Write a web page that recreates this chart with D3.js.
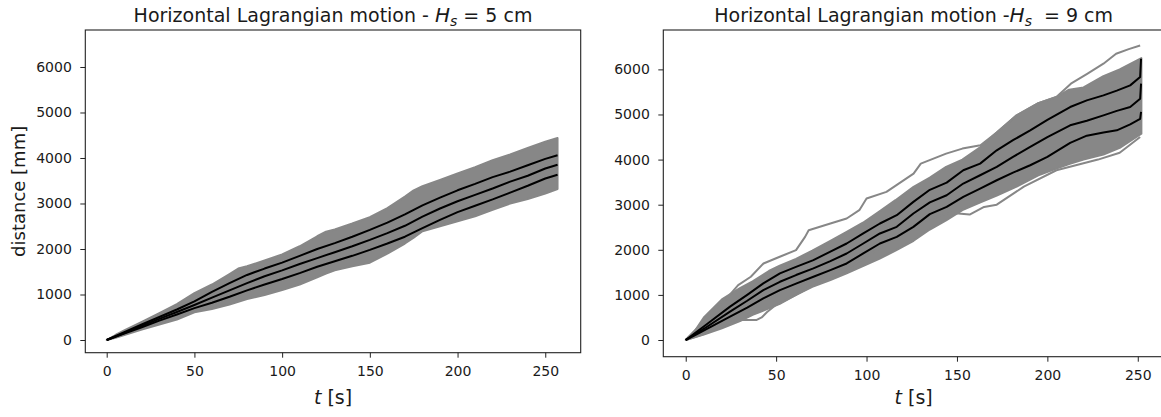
<!DOCTYPE html>
<html>
<head>
<meta charset="utf-8">
<script src="https://cdn.jsdelivr.net/npm/d3@7"></script>
<style>
	body { margin: 0; background: #fff; }
	svg text { font-family: "DejaVu Sans", sans-serif; fill: #1a1a1a; white-space: pre; }
</style>
</head>
<body>
<svg id="chart" width="1161" height="417"></svg>
<script>
// ---- data ----
const X_TICKS = [0, 50, 100, 150, 200, 250]
const Y_TICKS = [0, 1000, 2000, 3000, 4000, 5000, 6000]

const TITLE_HEAD = ['Horizontal Lagrangian motion - ', 'Horizontal Lagrangian motion -']
const TITLE_TAIL = [' = 5 cm', '  = 9 cm']

// left, Hs = 5 cm
const L_T = [0, 10, 20, 30, 40, 50, 60, 70, 80, 90, 100, 110, 120, 130, 140, 150, 160, 170, 180, 190, 200, 210, 220, 230, 240, 250, 257]
const L_UPPER = [0, 170, 340, 505, 670, 850, 1060, 1250, 1430, 1570, 1700, 1850, 2000, 2130, 2270, 2420, 2580, 2760, 2960, 3130, 3290, 3430, 3580, 3700, 3840, 3980, 4060]
const L_MEAN = [0, 155, 310, 465, 615, 770, 930, 1090, 1250, 1400, 1530, 1670, 1800, 1930, 2060, 2200, 2350, 2510, 2710, 2890, 3050, 3190, 3330, 3480, 3610, 3770, 3850]
const L_LOWER = [0, 140, 280, 425, 560, 700, 820, 950, 1090, 1220, 1340, 1470, 1610, 1730, 1850, 1980, 2120, 2270, 2460, 2640, 2810, 2950, 3090, 3240, 3390, 3550, 3630]

const L_ENV_T = [0, 5, 10, 20, 30, 40, 50, 60, 70, 75, 80, 90, 100, 110, 120, 125, 130, 140, 150, 160, 170, 175, 180, 190, 200, 210, 220, 230, 240, 250, 257]
const L_ENV_TOP = [0, 110, 210, 400, 590, 790, 1030, 1220, 1450, 1570, 1620, 1750, 1880, 2060, 2280, 2380, 2430, 2560, 2700, 2900, 3150, 3290, 3380, 3520, 3660, 3800, 3950, 4080, 4220, 4360, 4440]
const L_ENV_BOT = [0, 50, 110, 230, 340, 450, 610, 680, 780, 840, 900, 990, 1100, 1220, 1380, 1460, 1530, 1620, 1700, 1900, 2120, 2250, 2390, 2500, 2610, 2720, 2860, 3000, 3100, 3220, 3320]

// right, Hs = 9 cm
const R_T = [0, 12, 24.5, 34, 42.9, 52.1, 61, 70.6, 80, 89, 98.2, 107.4, 116.7, 125.9, 135, 144.3, 153.5, 162.8, 172, 181, 190.5, 200, 212.6, 221.8, 231, 238.4, 245.8, 251.3, 251.8]
const R_UPPER = [0, 360, 740, 1000, 1255, 1476, 1620, 1771, 1960, 2140, 2362, 2583, 2767, 3062, 3330, 3490, 3764, 3911, 4206, 4430, 4649, 4880, 5165, 5313, 5424, 5530, 5645, 5829, 6236]
const R_MEAN = [0, 300, 630, 870, 1107, 1291, 1440, 1587, 1750, 1918, 2140, 2362, 2509, 2805, 3050, 3210, 3469, 3653, 3837, 4060, 4280, 4500, 4760, 4860, 4980, 5080, 5165, 5350, 5683]
const R_LOWER = [0, 250, 520, 720, 923, 1107, 1250, 1402, 1550, 1697, 1920, 2140, 2287, 2509, 2790, 2951, 3173, 3358, 3542, 3710, 3874, 4060, 4370, 4530, 4600, 4649, 4780, 4900, 5060]

const R_ENV_T = [0, 5, 10, 20, 30, 37, 46, 52, 61, 70, 80, 89, 98, 107, 116, 126, 135, 144, 153, 163, 172, 183, 195, 205, 212, 220, 231, 240, 252]
const R_ENV_TOP = [0, 200, 500, 900, 1150, 1300, 1530, 1650, 1800, 1980, 2200, 2400, 2600, 2850, 3100, 3394, 3600, 3837, 4000, 4280, 4600, 4981, 5250, 5387, 5550, 5600, 5850, 6000, 6250]
const R_ENV_BOT = [0, 60, 120, 260, 420, 560, 700, 800, 1000, 1180, 1330, 1480, 1640, 1800, 1980, 2200, 2450, 2650, 2880, 3050, 3200, 3400, 3650, 3800, 3900, 4000, 4110, 4260, 4575]

// single gray runs that stick out of the band
const R_RUN1_T = [0, 10, 15, 20, 29, 36, 43, 52, 61, 66, 68, 80, 89, 96, 100, 111, 126, 130, 144, 153, 163, 172, 183, 195, 205, 213, 222, 231, 238, 245, 251.3]
const R_RUN1 = [0, 420, 650, 800, 1218, 1402, 1697, 1845, 1992, 2287, 2435, 2583, 2694, 2878, 3137, 3284, 3690, 3911, 4133, 4244, 4317, 4600, 4981, 5250, 5387, 5683, 5900, 6126, 6347, 6450, 6531]
const R_RUN2_T = [0, 10, 20, 28, 39, 42, 45, 50, 61, 70, 80, 98, 116, 126, 135, 146, 157, 165, 172, 187, 205, 228, 240, 251.3]
const R_RUN2 = [0, 130, 300, 443, 443, 500, 620, 780, 1000, 1200, 1350, 1800, 2250, 2550, 2680, 2820, 2780, 2950, 3000, 3400, 3764, 4000, 4150, 4500]

const GRAY = '#878787'

const panels = [
	{
		box: { left: 85.3, right: 580.7, top: 30, bottom: 352.7 },
		xDomain: [-12.2, 270.2], yDomain: [-279, 6813],
		band: [L_ENV_T, L_ENV_TOP, L_ENV_BOT],
		runs: [],
		stats: [[L_T, L_UPPER], [L_T, L_MEAN], [L_T, L_LOWER]],
		ylabel: true,
	},
	{
		box: { left: 663.3, right: 1164, top: 30, bottom: 356.7 },
		xDomain: [-12.4, 264.5], yDomain: [-370, 6873],
		band: [R_ENV_T, R_ENV_TOP, R_ENV_BOT],
		runs: [[R_RUN1_T, R_RUN1], [R_RUN2_T, R_RUN2]],
		stats: [[R_T, R_UPPER], [R_T, R_MEAN], [R_T, R_LOWER]],
		ylabel: false,
	},
]

const svg = d3.select('#chart')

function drawPanel(p, k) {
	const b = p.box
	const x = d3.scaleLinear().domain(p.xDomain).range([b.left, b.right])
	const y = d3.scaleLinear().domain(p.yDomain).range([b.bottom, b.top])
	const g = svg.append('g')

	g.append('clipPath').attr('id', `clip-${k}`)
	  .append('rect')
		.attr('x', b.left).attr('y', b.top)
		.attr('width', b.right - b.left).attr('height', b.bottom - b.top)

	const plot = g.append('g').attr('clip-path', `url(#clip-${k})`)

	// gray band of trajectories
	const [bt, btop, bbot] = p.band
	const area = d3.area()
		.x((d, i) => x(bt[i]))
		.y0((d, i) => y(bbot[i]))
		.y1((d, i) => y(btop[i]))
	plot.append('path')
		.attr('d', area(bt))
		.attr('fill', GRAY)
		.attr('stroke', GRAY)
		.attr('stroke-width', 2)
		.attr('stroke-linejoin', 'round')

	const line = (ts, vs) => d3.line()
		.x((d, i) => x(ts[i]))
		.y((d, i) => y(vs[i]))(ts)

	p.runs.forEach(([ts, vs]) => {
		plot.append('path')
			.attr('d', line(ts, vs))
			.attr('fill', 'none')
			.attr('stroke', GRAY)
			.attr('stroke-width', 2)
			.attr('stroke-linejoin', 'round')
	})

	p.stats.forEach(([ts, vs]) => {
		plot.append('path')
			.attr('d', line(ts, vs))
			.attr('fill', 'none')
			.attr('stroke', '#000')
			.attr('stroke-width', 2)
			.attr('stroke-linejoin', 'round')
	})

	// axes
	const xAxis = g.append('g')
		.attr('transform', `translate(0,${b.bottom})`)
		.call(d3.axisBottom(x).tickValues(X_TICKS).tickSize(5).tickPadding(8.5).tickFormat(d3.format('d')))
	const yAxis = g.append('g')
		.attr('transform', `translate(${b.left},0)`)
		.call(d3.axisLeft(y).tickValues(Y_TICKS).tickSize(5).tickPadding(8.5).tickFormat(d3.format('d')))

	;[xAxis, yAxis].forEach(a => {
		a.select('.domain').remove()
		a.selectAll('line').attr('stroke', '#222').attr('stroke-width', 1)
		a.selectAll('text').attr('font-size', 14).attr('font-family', null).attr('fill', null)
	})

	g.append('rect')
		.attr('x', b.left).attr('y', b.top)
		.attr('width', b.right - b.left).attr('height', b.bottom - b.top)
		.attr('fill', 'none').attr('stroke', '#222').attr('stroke-width', 1.1)

	// title
	const cx = (b.left + b.right) / 2
	const title = g.append('text')
		.attr('x', cx).attr('y', 22)
		.attr('text-anchor', 'middle')
		.attr('font-size', 19)
	title.append('tspan').text(TITLE_HEAD[k])
	title.append('tspan').attr('font-style', 'italic').attr('font-size', 20).text('H')
	title.append('tspan').attr('font-style', 'italic').attr('font-size', 14).attr('dy', 4).text('s')
	title.append('tspan').attr('dy', -4).text(TITLE_TAIL[k])

	// x label
	const xl = g.append('text')
		.attr('x', cx).attr('y', 404)
		.attr('text-anchor', 'middle')
		.attr('font-size', 19)
	xl.append('tspan').attr('font-style', 'italic').text('t')
	xl.append('tspan').text(' [s]')

	if (p.ylabel) {
		g.append('text')
			.attr('transform', `translate(25,${(b.top + b.bottom) / 2}) rotate(-90)`)
			.attr('text-anchor', 'middle')
			.attr('font-size', 18)
			.text('distance [mm]')
	}
}

panels.forEach(drawPanel)
</script>
</body>
</html>
